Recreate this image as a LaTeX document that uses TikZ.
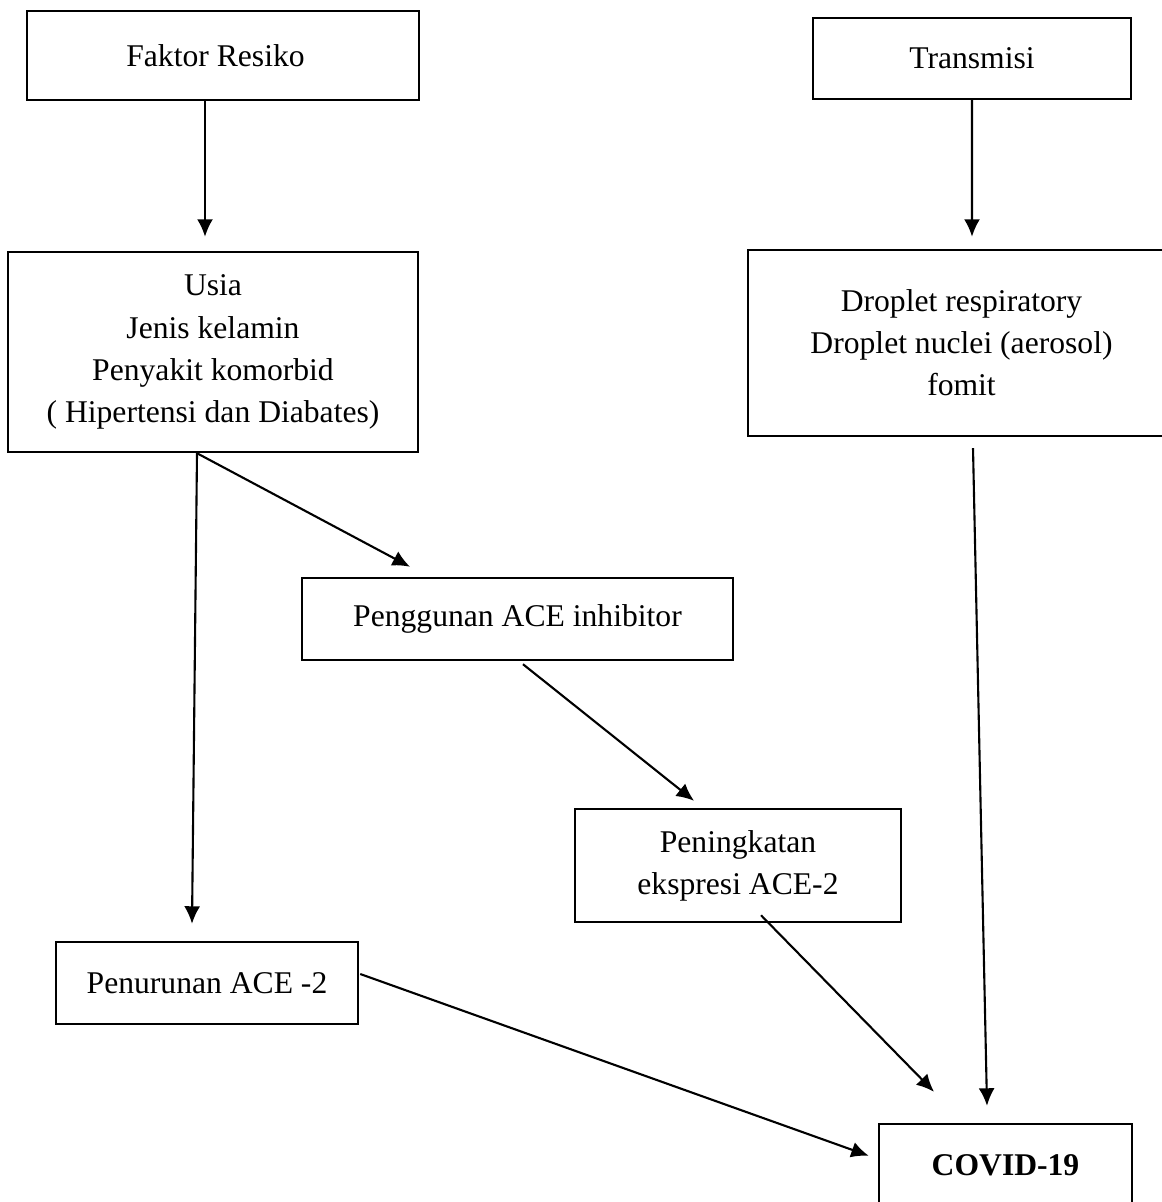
\documentclass[tikz,border=0pt]{standalone}
\usepackage{fontspec}
\setmainfont{Liberation Serif}
\usetikzlibrary{calc,arrows.meta}
\tikzset{>={Latex[length=3.5mm,width=3.2mm]}}
\tikzset{box/.style={draw,line width=1.4pt,align=center,inner sep=0pt,font=\fontsize{18}{24}\selectfont}}
\tikzset{link/.style={->,line width=1.2pt}}

\begin{document}
\begin{tikzpicture}[x=0.02cm,y=-0.02cm]
  \useasboundingbox (0,0) rectangle (1161,1202);
  % boxes
  \node[box,minimum width=392*0.02cm,minimum height=89*0.02cm] (faktor) at (223,55.5) {Faktor Resiko\hspace{0.3cm}};
  \node[box,minimum width=318*0.02cm,minimum height=81*0.02cm] (trans) at (972,58.5) {Transmisi};
  \node[box,minimum width=410*0.02cm,minimum height=200*0.02cm] (usia) at (213,352)
    {Usia\\Jenis kelamin\\Penyakit komorbid\\( Hipertensi dan Diabates)};
  \node[box,minimum width=427*0.02cm,minimum height=186*0.02cm] (droplet) at (961.5,343)
    {Droplet respiratory\\Droplet nuclei (aerosol)\\fomit};
  \node[box,minimum width=431*0.02cm,minimum height=82*0.02cm] (penggunaan) at (517.5,619) {Penggunan ACE inhibitor};
  \node[box,minimum width=326*0.02cm,minimum height=113*0.02cm] (peningkatan) at (738,865.5) {Peningkatan\\ekspresi ACE-2};
  \node[box,minimum width=302*0.02cm,minimum height=82*0.02cm] (penurunan) at (207,983) {Penurunan ACE -2};
  \node[box,minimum width=253*0.02cm,text height=1.02cm,text depth=1.1cm,anchor=base] (covid) at (1005.5,1175) {\textbf{COVID-19}};
  % arrows
  \draw[link] ($(faktor.south)+(-18,0)$) -- ($(usia.north)+(-8,-14)$);
  \draw[link] (trans.south) -- ($(droplet.north)+(10.5,-12)$);
  \draw[link] ($(usia.south)+(-16,0)$) -- ($(penggunaan.north)+(-107.5,-10)$);
  \draw[link] ($(usia.south)+(-16,0)$) -- ($(penurunan.north)+(-15,-17)$);
  \draw[link] ($(penggunaan.south)+(5.5,3)$) -- ($(peningkatan.north)+(-44,-7)$);
  \draw[link] ($(peningkatan.south)+(23,-8)$) -- ($(covid.north)+(-71.5,-31)$);
  \draw[link] ($(droplet.south)+(11.5,11)$) -- ($(covid.north)+(-18.5,-17)$);
  \draw[link] ($(penurunan.east)+(1,-9)$) -- ($(covid.north west)+(-9,33)$);
\end{tikzpicture}
\end{document}
